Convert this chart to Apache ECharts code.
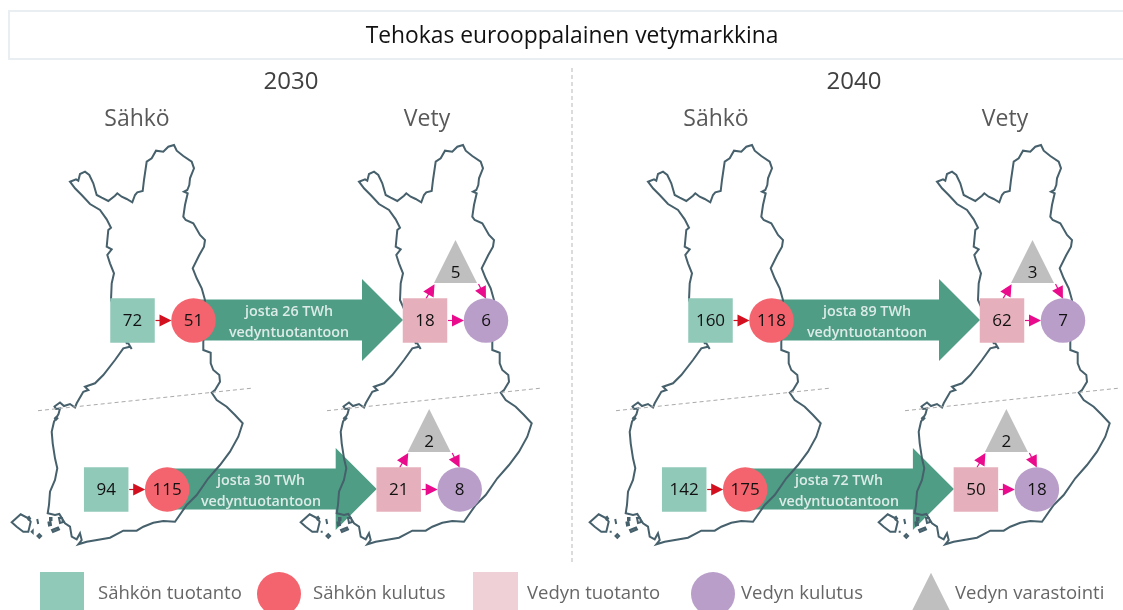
<!DOCTYPE html>
<html>
<head>
<meta charset="utf-8">
<title>Tehokas eurooppalainen vetymarkkina</title>
<script src="https://cdn.jsdelivr.net/npm/echarts@6/dist/echarts.min.js"></script>
<style>
html, body { margin: 0; padding: 0; background: #fff; }
#main { width: 1123px; height: 610px; overflow: hidden; }
</style>
</head>
<body>
<div id="main"></div>
<script>
// Arvot järjestyksessä: 2030 pohjoinen, 2030 etelä, 2040 pohjoinen, 2040 etelä
const sahkoTuotanto = [72, 94, 160, 142]
const sahkoKulutus = [51, 115, 118, 175]
const vetyOsuus = [26, 30, 89, 72]
const vetyTuotanto = [18, 21, 62, 50]
const vetyKulutus = [6, 8, 7, 18]
const vetyVarasto = [5, 2, 3, 2]
const legendLabels = ['Sähkön tuotanto', 'Sähkön kulutus', 'Vedyn tuotanto', 'Vedyn kulutus', 'Vedyn varastointi']

// Suomen ääriviiva
const finland = [[70,181.7],[76,179.3],[78.3,180.7],[80,174],[85,171.7],[89.3,175],[93.3,183.3],[96.7,195],[101.7,197.7],[108.3,201],[115,195.7],[117.3,193.3],[121.7,196.7],[126.7,199],[132.3,202.3],[135,195],[137.3,192.3],[142.7,191],[144,180],[146.7,161.7],[151.7,158.3],[156,150.7],[163.3,151.7],[168.3,146.7],[174,145],[176.7,150.7],[183.3,156],[191.7,161.7],[194,168.3],[190,178.3],[189.3,185],[187.3,190],[184,191.7],[187.7,193.3],[185,205],[183.3,216.7],[185.7,220],[193.3,223.3],[200,235],[205,240],[204,246.7],[199.3,255],[192.7,268.3],[196.7,278.3],[201.7,288.3],[205,300],[204,320],[203.3,343],[203.3,350],[210.7,352.7],[210.7,363.3],[213.3,370],[219.3,375],[220,381.7],[215,390],[211.7,392.7],[216.7,400],[226.7,406.7],[235,415],[242.7,423.3],[238.3,436.7],[230,451.7],[220,465],[208.3,478.3],[196.7,495],[186.7,505],[175,521.7],[163.3,521],[153.3,522.7],[143.3,526.7],[136.7,530.7],[123.3,530.7],[110,537.7],[86.7,541.7],[78.3,544.3],[81.7,540],[80,533.3],[76.7,539.3],[71.7,536.7],[70,526.7],[65,523.3],[59.3,514],[55,515],[47.7,513.3],[49,505],[50,491.7],[55,480],[57.3,468.3],[55,458.3],[52.7,443.3],[51.7,431.7],[54,421.7],[58.5,414],[60,408.5],[56,409],[54.5,406.5],[60,402.5],[64,406],[70,404],[75,407.5],[76.7,403.3],[83.3,391.7],[88.3,390],[85,386.7],[95,383.3],[103.3,375],[115,360],[123.3,348.3],[130,346.7],[131.7,349],[128.3,343.3],[126.7,343.3],[120,320],[111,300],[111.7,283.3],[114,273.3],[110,263.3],[107.3,255],[111.7,249.3],[106.7,246.7],[108.3,230],[111,227.7],[106.7,219.3],[100,210],[90,204],[81.7,195],[75,188.3]]
const aland = [[11.7,522.3],[20.7,514.3],[28.3,518.3],[30.7,521.7],[28.3,531.7],[23.3,531.7],[16.7,526.7]]
const islands = [[[37.5,536],[39.3,534.2],[41.1,536],[39.3,537.8]],[[31.7,531.7],[32.7,530.7],[33.7,531.7],[32.7,532.7]],[[37.2,519],[38.2,519],[38.2,524],[37.2,524]],[[48.5,522.5],[50.5,522],[51,525],[49,525.5]],[[52,530],[58,527.5],[59,529.5],[53,532]],[[55,418.3],[56.2,417.1],[57.4,418.3],[56.2,419.5]],[[59,518],[62,518],[63,522],[60,523]],[[27.5,518],[29,517],[30,518.5],[28.5,519.5]],[[50,518],[51.5,518],[51.5,520],[50,520]]]

// Paikat kaaviossa
const mapShifts = [0, 289, 578, 867]
const sahkoX = [132.5, 106.2, 710.5, 684.2]
const vetyX = [425, 398.7, 1002, 975.9]
const rowY = [320.6, 489.5, 320.6, 489.5]
const arrowTextX = [289, 261, 867, 839]

const yInk = '#404040'
const font = '"Open Sans", sans-serif'

function lonLat(ring) {
    let points = ring.map(p => [p[0], -p[1]])
    points.push(points[0])
    return [points]
}
let allPoints = finland.concat(aland, ...islands)
let minX = Math.min(...allPoints.map(p => p[0])), maxX = Math.max(...allPoints.map(p => p[0]))
let minY = Math.min(...allPoints.map(p => p[1])), maxY = Math.max(...allPoints.map(p => p[1]))

echarts.registerMap('suomi', {
    type: 'FeatureCollection',
    features: [{
        type: 'Feature',
        properties: { name: 'Suomi' },
        geometry: { type: 'MultiPolygon', coordinates: [finland, aland, ...islands].map(lonLat) }
    }]
})

function heading(text, x, y, size, color) {
    return { text: text, left: x, top: y, textAlign: 'center', padding: 0, textStyle: { fontFamily: font, fontWeight: 'normal', fontSize: size, color: color, lineHeight: size + 4 } }
}

function shapes(xs, offsetX, offsetY, values) {
    return values.map((v, i) => ({ value: [xs[i] + offsetX, rowY[i] + offsetY, v] }))
}

function marker(name, symbol, size, color, data, labelOffset) {
    return {
        name: name,
        type: 'scatter',
        z: 4,
        symbol: symbol,
        symbolSize: size,
        silent: true,
        itemStyle: { color: color, opacity: 1 },
        label: { show: true, position: 'inside', offset: labelOffset || [0, 1], color: '#111', fontFamily: font, fontSize: 17, formatter: p => p.value[2] },
        data: data
    }
}

function smallArrows(name, color, data) {
    return {
        name: name,
        type: 'lines',
        coordinateSystem: 'cartesian2d',
        z: 3,
        silent: true,
        symbol: ['none', 'triangle'],
        symbolSize: 12,
        lineStyle: { color: color, width: 1.2, opacity: 1, curveness: 0 },
        data: data.map(c => ({ coords: c }))
    }
}

function dashed(from, to, color) {
    return {
        type: 'line',
        z: 1,
        silent: true,
        showSymbol: false,
        lineStyle: { color: color, width: 1, type: [4, 3] },
        data: [from, to]
    }
}

function legendSwatch(symbol, size, color, x, y, label, textX) {
    return [{
        type: 'scatter',
        silent: true,
        symbol: symbol,
        symbolSize: size,
        itemStyle: { color: color, opacity: 1 },
        clip: false,
        data: [[x, y]]
    }, {
        type: 'scatter',
        silent: true,
        symbolSize: 0,
        label: { show: true, position: 'right', distance: 0, formatter: label, color: yInk, fontFamily: font, fontSize: 18.5 },
        data: [[textX, 594]]
    }]
}

let dividers = []
mapShifts.forEach(s => {
    dividers.push(dashed([38 + s, 410.7], [253.5 + s, 388], '#aaaaaa'))
})
dividers.push(dashed([572, 68], [572, 565], '#b8b8b8'))

// Kärki on viivan päässä keskellä, joten viiva loppuu ennen ympyrää
let redArrows = sahkoX.map((x, i) => [[x + 23, rowY[i]], [x + 33, rowY[i]]])
let pinkArrows = []
vetyX.forEach((x, i) => {
    pinkArrows.push([[x + 23, rowY[i]], [x + 33, rowY[i]]])
    pinkArrows.push([[x + 1, rowY[i] - 22], [x + 6.5, rowY[i] - 31.3]])
    pinkArrows.push([[x + 53.5, rowY[i] - 36.5], [x + 58.2, rowY[i] - 27.3]])
})

let chart = echarts.init(document.getElementById('main'))
chart.setOption({
    animation: false,
    backgroundColor: '#fff',
    title: [
        heading('Tehokas eurooppalainen vetymarkkina', 572, 23, 22.8, '#111'),
        heading('2030', 291, 68, 24, yInk),
        heading('2040', 854, 68, 24, yInk),
        heading('Sähkö', 137, 106, 23, '#595959'),
        heading('Vety', 427, 106, 23, '#595959'),
        heading('Sähkö', 716, 106, 23, '#595959'),
        heading('Vety', 1005, 106, 23, '#595959')
    ],
    graphic: [{
        type: 'rect',
        silent: true,
        shape: { x: 9, y: 11, width: 1120, height: 48 },
        style: { fill: 'none', stroke: '#e9eef2', lineWidth: 2 }
    }],
    grid: { left: 0, right: 0, top: 0, bottom: 0 },
    xAxis: { type: 'value', min: 0, max: 1123, show: false },
    yAxis: { type: 'value', min: 0, max: 610, inverse: true, show: false },
    geo: mapShifts.map(s => ({
        map: 'suomi',
        silent: true,
        roam: false,
        z: 1,
        aspectScale: 1,
        left: minX + s,
        top: minY,
        width: maxX - minX,
        height: maxY - minY,
        label: { show: false },
        itemStyle: { areaColor: 'transparent', borderColor: '#46606c', borderWidth: 2 },
        emphasis: { disabled: true }
    })),
    series: [
        {
            name: 'Vedyntuotantoon',
            type: 'custom',
            coordinateSystem: 'cartesian2d',
            z: 0,
            silent: true,
            renderItem: function (params, api) {
                let from = api.value(0), tip = api.value(1), y = api.value(2)
                let base = tip - 41
                let pts = [[from, y - 20.5], [base, y - 20.5], [base, y - 41], [tip, y], [base, y + 41], [base, y + 20.5], [from, y + 20.5]]
                return { type: 'polygon', shape: { points: pts.map(p => api.coord(p)) }, style: { fill: '#4f9d85' } }
            },
            data: sahkoX.map((x, i) => [x + 61, vetyX[i] - 22, rowY[i] - 0.5])
        },
        ...dividers,
        smallArrows('Sähkö', '#d3101f', redArrows),
        smallArrows('Vety', '#ea0a8c', pinkArrows),
        marker('Sähkön tuotanto', 'rect', 44.5, '#91c9b8', shapes(sahkoX, 0, 0, sahkoTuotanto)),
        marker('Sähkön kulutus', 'circle', 44.5, '#f4646e', shapes(sahkoX, 61, 0, sahkoKulutus)),
        marker('Vedyn tuotanto', 'rect', 44.5, '#e5b0bb', shapes(vetyX, 0, 0, vetyTuotanto)),
        marker('Vedyn kulutus', 'circle', 44.5, '#b99ec9', shapes(vetyX, 61, 0, vetyKulutus)),
        marker('Vedyn varastointi', 'triangle', [43, 43], '#bfbfbf', shapes(vetyX, 30.5, -59, vetyVarasto), [0, 12]),
        {
            name: 'Osuus',
            type: 'scatter',
            z: 5,
            silent: true,
            symbolSize: 0,
            label: {
                show: true, position: 'inside', color: '#fff', fontFamily: font, fontSize: 14.3, fontWeight: 600, lineHeight: 21,
                formatter: p => 'josta ' + p.value[2] + ' TWh\nvedyntuotantoon'
            },
            data: vetyOsuus.map((v, i) => [arrowTextX[i], rowY[i] + 1.5, v])
        },
        ...legendSwatch('rect', [44, 44], '#91c9b8', 62, 594, legendLabels[0], 98),
        ...legendSwatch('circle', 44, '#f4646e', 279, 594, legendLabels[1], 313),
        ...legendSwatch('rect', [45, 44], '#f0d0d7', 495.5, 594, legendLabels[2], 527),
        ...legendSwatch('circle', 44, '#b99ec9', 713, 594, legendLabels[3], 741),
        ...legendSwatch('triangle', [44, 44], '#bfbfbf', 931, 594.7, legendLabels[4], 955)
    ]
})
</script>
</body>
</html>
